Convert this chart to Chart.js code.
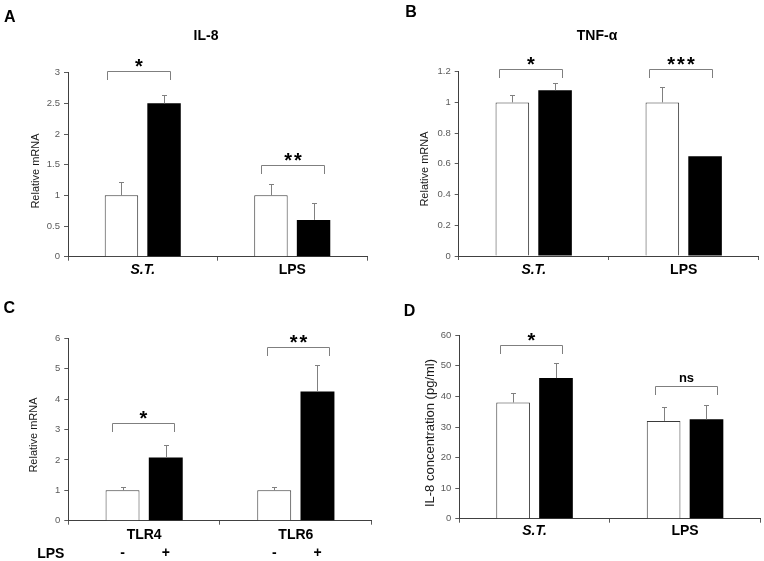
<!DOCTYPE html>
<html><head><meta charset="utf-8">
<script src="https://cdn.jsdelivr.net/npm/chart.js@4.4.1/dist/chart.umd.min.js"></script>
<style>
body{margin:0;background:#fff;width:764px;height:561px;position:relative;overflow:hidden;font-family:"Liberation Sans",Arial,sans-serif}
canvas{position:absolute}
.t{position:absolute;white-space:nowrap;line-height:1;transform:translate(-50%,-50%);color:#000}
.b{font-weight:bold}
.rot{transform:translate(-50%,-50%) rotate(-90deg);color:#1a1a1a;font-size:11px}
</style></head><body>
<canvas id="cA" width="382" height="280" style="left:0;top:0"></canvas>
<canvas id="cB" width="382" height="280" style="left:382px;top:0"></canvas>
<canvas id="cC" width="382" height="281" style="left:0;top:280px"></canvas>
<canvas id="cD" width="382" height="281" style="left:382px;top:280px"></canvas>

<div class="t b" style="left:9.7px;top:17px;font-size:16px">A</div>
<div class="t b" style="left:411px;top:12px;font-size:16px">B</div>
<div class="t b" style="left:9.2px;top:308px;font-size:16px">C</div>
<div class="t b" style="left:409.5px;top:311px;font-size:16px">D</div>
<div class="t b" style="left:206px;top:34.5px;font-size:14px">IL-8</div>
<div class="t b" style="left:597px;top:35px;font-size:14px">TNF-α</div>
<div class="t rot" style="left:35px;top:170.5px">Relative mRNA</div>
<div class="t rot" style="left:423.7px;top:169px">Relative mRNA</div>
<div class="t rot" style="left:33.3px;top:435px">Relative mRNA</div>
<div class="t rot" style="left:428.7px;top:433.3px;font-size:13px">IL-8 concentration (pg/ml)</div>
<div class="t b" style="left:50.8px;top:552.5px;font-size:14px">LPS</div>

<script>
// ---- data ----
const catsA = ['S.T.', 'LPS'];
const ctrlA = [1.0, 1.0];
const ctrlErrA = [0.22, 0.18];
const trtA = [2.5, 0.6];
const trtErrA = [0.13, 0.27];
const yTicksA = {max: 3, step: 0.5};
const bracketsA = [[-0.24, 0.18, 3.03, '*'], [0.79, 1.21, 1.5, '**']];

const catsB = ['S.T.', 'LPS'];
const ctrlB = [1.0, 1.0];
const ctrlErrB = [0.05, 0.10];
const trtB = [1.08, 0.65];
const trtErrB = [0.045, 0];
const yTicksB = {max: 1.2, step: 0.2};
const bracketsB = [[-0.23, 0.19, 1.215, '*'], [0.77, 1.19, 1.215, '***']];

const catsC = ['TLR4', 'TLR6'];
const ctrlC = [1.0, 1.0];
const ctrlErrC = [0.1, 0.1];
const trtC = [2.08, 4.25];
const trtErrC = [0.42, 0.88];
const yTicksC = {max: 6, step: 1};
const bracketsC = [[-0.21, 0.2, 3.2, '*'], [0.81, 1.22, 5.71, '**']];
const lpsSigns = ['-', '+'];

const catsD = ['S.T.', 'LPS'];
const ctrlD = [38, 32];
const ctrlErrD = [3.1, 4.4];
const trtD = [46, 32.5];
const trtErrD = [4.8, 4.6];
const yTicksD = {max: 60, step: 10};
const bracketsD = [[-0.23, 0.18, 56.8, '*'], [0.8, 1.21, 43.4, 'ns']];

const italicCats = ['S.T.'];
const FONT = '"Liberation Sans", Arial, sans-serif';
Chart.defaults.font.family = FONT;

const annot = {
  id: 'annot',
  afterDatasetsDraw(chart) {
    const o = chart.options.plugins.annot;
    const {ctx, scales: {x, y}, chartArea} = chart;
    ctx.save();
    // error bars (upper only)
    chart.data.datasets.forEach((ds, di) => {
      const meta = chart.getDatasetMeta(di);
      meta.data.forEach((bar, i) => {
        const e = ds.err[i];
        if (!e) return;
        const px = Math.round(bar.x) + 0.5;
        const y0 = y.getPixelForValue(ds.data[i]);
        const y1 = Math.round(y.getPixelForValue(ds.data[i] + e)) + 0.5;
        ctx.strokeStyle = '#808080';
        ctx.lineWidth = 1;
        ctx.beginPath();
        ctx.moveTo(px, y0); ctx.lineTo(px, y1);
        ctx.moveTo(px - 2.5, y1); ctx.lineTo(px + 2.5, y1);
        ctx.stroke();
      });
    });
    // significance brackets
    o.brackets.forEach(([a, b, v, txt]) => {
      const x0 = Math.round(x.getPixelForValue(a)) + 0.5;
      const x1 = Math.round(x.getPixelForValue(b)) + 0.5;
      const yy = Math.round(y.getPixelForValue(v)) + 0.5;
      ctx.strokeStyle = '#7f7f7f';
      ctx.lineWidth = 1;
      ctx.beginPath();
      ctx.moveTo(x0, yy + 8.5); ctx.lineTo(x0, yy); ctx.lineTo(x1, yy); ctx.lineTo(x1, yy + 8.5);
      ctx.stroke();
      ctx.fillStyle = '#000';
      ctx.textAlign = 'center';
      ctx.textBaseline = 'alphabetic';
      if (txt === 'ns') {
        ctx.font = 'bold 13px ' + FONT;
        ctx.fillText(txt, (x0 + x1) / 2, yy - 5);
      } else {
        ctx.font = 'bold 20px ' + FONT;
        ctx.letterSpacing = '2px';
        ctx.fillText(txt, (x0 + x1) / 2 + 1, yy + 1);
        ctx.letterSpacing = '0px';
      }
    });
    // sign row under categories
    if (o.signs) {
      ctx.fillStyle = '#000';
      ctx.font = 'bold 14px ' + FONT;
      ctx.textAlign = 'center';
      ctx.textBaseline = 'middle';
      chart.data.datasets.forEach((ds, di) => {
        chart.getDatasetMeta(di).data.forEach(bar => {
          ctx.fillText(o.signs[di], bar.x, chartArea.bottom + 32);
        });
      });
    }
    ctx.restore();
  }
};

function panel(id, cats, ctrl, ctrlErr, trt, trtErr, yt, brackets, geo, signs) {
  const cv = document.getElementById(id);
  const W = cv.width, H = cv.height;
  new Chart(cv, {
    type: 'bar',
    data: {
      labels: cats,
      datasets: [
        {data: ctrl, err: ctrlErr, backgroundColor: '#ffffff', borderColor: '#3a3a3a', borderWidth: 1,
         categoryPercentage: 0.57, barPercentage: 0.785},
        {data: trt, err: trtErr, backgroundColor: '#000000', borderColor: '#000000', borderWidth: 0,
         categoryPercentage: 0.57, barPercentage: 0.785}
      ]
    },
    options: {
      responsive: false,
      devicePixelRatio: 1,
      animation: false,
      events: [],
      layout: {padding: {top: geo.top, right: W - geo.right, left: 0, bottom: 0}},
      plugins: {legend: {display: false}, tooltip: {enabled: false}, annot: {brackets, signs}},
      scales: {
        x: {
          offset: true,
          grid: {display: true, drawOnChartArea: false, offset: true, tickLength: 4, color: '#5a5a5a'},
          border: {color: '#404040', width: 1},
          ticks: {
            color: '#000', padding: geo.pad, maxRotation: 0,
            font: c => ({family: FONT, size: 14, weight: 'bold',
              style: (c.tick && italicCats.includes(c.tick.label)) ? 'italic' : 'normal'})
          },
          afterFit: s => { s.height = H - geo.bottom; }
        },
        y: {
          min: 0, max: yt.max,
          ticks: {stepSize: yt.step, color: '#5a5a5a', font: {size: 9.5}, padding: 4,
            callback: v => String(Number(v.toFixed(2)))},
          grid: {display: true, drawOnChartArea: false, tickLength: 4, color: '#5a5a5a'},
          border: {color: '#404040', width: 1},
          afterFit: s => { s.width = geo.left; }
        }
      }
    },
    plugins: [annot]
  });
}

panel('cA', catsA, ctrlA, ctrlErrA, trtA, trtErrA, yTicksA, bracketsA,
  {left: 68, right: 367, top: 72.7, bottom: 256.7, pad: 1});
panel('cB', catsB, ctrlB, ctrlErrB, trtB, trtErrB, yTicksB, bracketsB,
  {left: 76.7, right: 376.7, top: 71.7, bottom: 256, pad: 1.5});
panel('cC', catsC, ctrlC, ctrlErrC, trtC, trtErrC, yTicksC, bracketsC,
  {left: 68.3, right: 371.7, top: 58.3, bottom: 240.7, pad: 2}, lpsSigns);
panel('cD', catsD, ctrlD, ctrlErrD, trtD, trtErrD, yTicksD, bracketsD,
  {left: 77.3, right: 378.3, top: 55.3, bottom: 238.7, pad: 0});
</script>
</body></html>
